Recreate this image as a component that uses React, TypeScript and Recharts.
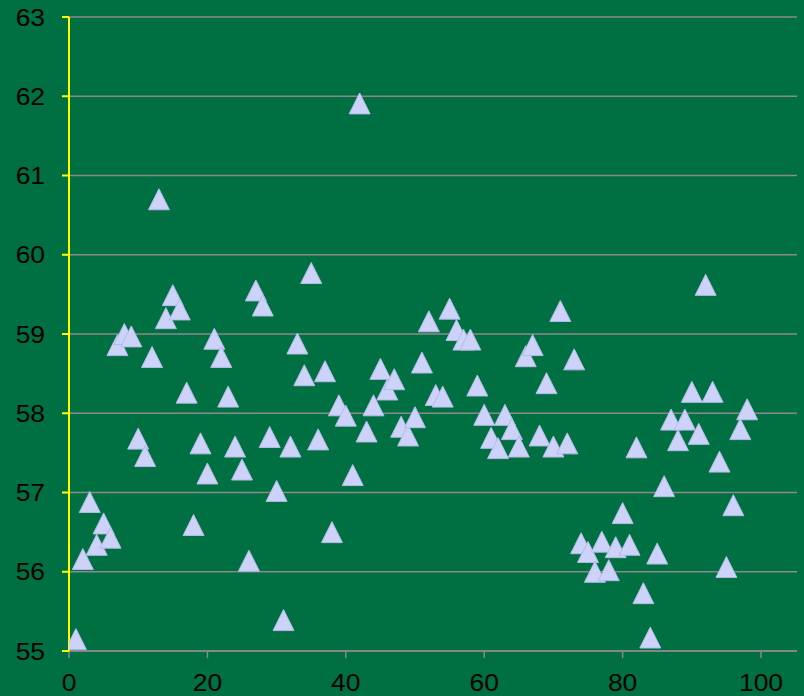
import { ScatterChart, Scatter, XAxis, YAxis, CartesianGrid } from "recharts";

const xValues = [
  1, 2, 3, 4, 5, 6, 7, 8, 9, 10, 11, 12, 13, 14, 15, 16, 17, 18, 19, 20,
  21, 22, 23, 24, 25, 26, 27, 28, 29, 30, 31, 32, 33, 34, 35, 36, 37, 38, 39, 40,
  41, 42, 43, 44, 45, 46, 47, 48, 49, 50, 51, 52, 53, 54, 55, 56, 57, 58, 59, 60,
  61, 62, 63, 64, 65, 66, 67, 68, 69, 70, 71, 72, 73, 74, 75, 76, 77, 78, 79, 80,
  81, 82, 83, 84, 85, 86, 87, 88, 89, 90, 91, 92, 93, 94, 95, 96, 97, 98,
];

const yValues = [
  55.15, 56.16, 56.88, 56.34, 56.61, 56.43, 58.86, 59.0, 58.97, 57.68,
  57.46, 58.71, 60.7, 59.2, 59.49, 59.31, 58.26, 56.59, 57.62, 57.24,
  58.94, 58.71, 58.21, 57.58, 57.29, 56.14, 59.55, 59.36, 57.7, 57.02,
  55.39, 57.58, 58.88, 58.48, 59.77, 57.67, 58.53, 56.5, 58.1, 57.97,
  57.22, 61.91, 57.77, 58.1, 58.56, 58.3, 58.43, 57.83, 57.72, 57.95,
  58.64, 59.16, 58.23, 58.21, 59.32, 59.05, 58.93, 58.93, 58.35, 57.98,
  57.69, 57.56, 57.98, 57.8, 57.58, 58.72, 58.86, 57.72, 58.38, 57.58,
  59.29, 57.62, 58.68, 56.36, 56.25, 56.0, 56.38, 56.02, 56.31, 56.74,
  56.34, 57.57, 55.73, 55.17, 56.23, 57.08, 57.92, 57.66, 57.92, 58.27,
  57.74, 59.62, 58.27, 57.39, 56.06, 56.84, 57.8, 58.05,
];

const xTicks = [0, 20, 40, 60, 80, 100];
const yTicks = [55, 56, 57, 58, 59, 60, 61, 62, 63];

const data = xValues.map((x, i) => ({ x, y: yValues[i] }));

const BG = "#006f41";
const GRID = "#8a8a8a";
const FONT = "'Liberation Sans', Arial, sans-serif";

// the original labels are a bit wider than plain Arial, so stretch them slightly
const AxisTick = (props: any) => {
  const { x, y, payload, textAnchor, vertical } = props;
  return (
    <g transform={`translate(${x},${y}) scale(1.1,1)`}>
      <text
        x={0}
        y={0}
        dy={vertical ? "0.355em" : "0.71em"}
        textAnchor={textAnchor}
        fontSize={24}
        fontFamily={FONT}
        fill="#000"
      >
        {payload.value}
      </text>
    </g>
  );
};

// Excel-style triangle marker, centred on its bounding box
const TriangleMarker = (props: any) => {
  const { cx, cy } = props;
  if (cx == null || cy == null) return null;
  const hw = 10.5;
  const hh = 10.5;
  return (
    <path
      d={`M${cx},${cy - hh} L${cx + hw},${cy + hh} L${cx - hw},${cy + hh} Z`}
      fill="#cdd3f8"
      stroke="#b3bbe8"
      strokeWidth={1}
    />
  );
};

export default function App() {
  return (
    <div style={{ position: "absolute", left: 0, top: 0, width: 804, height: 696, background: BG }}>
      <ScatterChart width={804} height={696} margin={{ top: 17, right: 7, bottom: 0, left: 0 }}>
        <CartesianGrid vertical={false} stroke={GRID} strokeWidth={1.5} />
        <XAxis
          type="number"
          dataKey="x"
          domain={[0, 105.2]}
          ticks={xTicks}
          allowDataOverflow
          height={45}
          axisLine={{ stroke: GRID, strokeWidth: 1.5 }}
          tickLine={{ stroke: GRID, strokeWidth: 1.5 }}
          tickSize={7}
          tickMargin={16}
          tick={<AxisTick vertical={false} />}
        />
        <YAxis
          type="number"
          dataKey="y"
          domain={[55, 63]}
          ticks={yTicks}
          allowDataOverflow
          width={69}
          axisLine={{ stroke: "#ffff00", strokeWidth: 2 }}
          tickLine={{ stroke: "#ffff00", strokeWidth: 2 }}
          tickSize={7}
          tickMargin={17}
          tick={<AxisTick vertical />}
        />
        <Scatter data={data} shape={TriangleMarker} isAnimationActive={false} />
      </ScatterChart>
    </div>
  );
}
